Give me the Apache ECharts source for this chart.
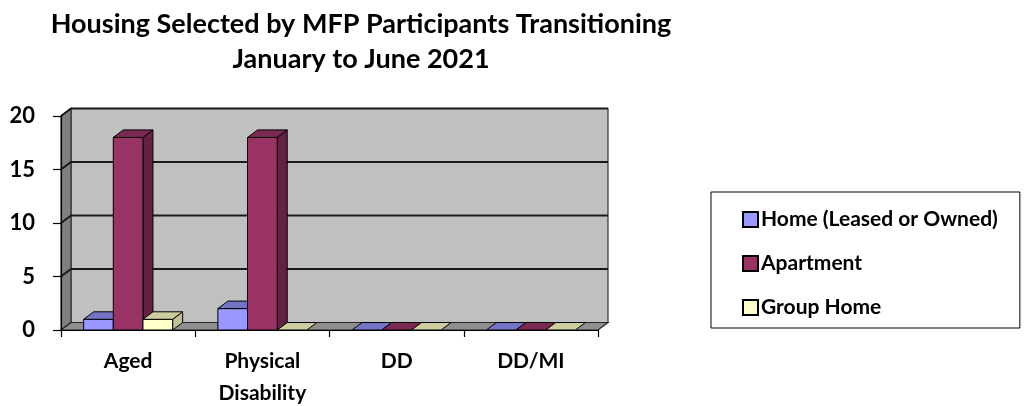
<!DOCTYPE html>
<html>
<head>
<meta charset="utf-8">
<script src="https://cdn.jsdelivr.net/npm/echarts@6/dist/echarts.min.js"></script>
<style>
  html, body { margin: 0; padding: 0; background: #fff; }
  #chart { width: 1024px; height: 406px; }
</style>
</head>
<body>
<div id="chart"></div>
<script>
// Housing type counts per participant group
const categories = ['Aged', 'Physical Disability', 'DD', 'DD/MI'];
const homeLeasedOrOwned = [1, 2, 0, 0];
const apartment = [18, 18, 0, 0];
const groupHome = [1, 0, 0, 0];
const seriesNames = ['Home (Leased or Owned)', 'Apartment', 'Group Home'];
const yTicks = [0, 5, 10, 15, 20];

// Depth offset of the pseudo-3D box (pixels)
const DX = 10, DY = -7.5;
const BAR_FRACTION = 0.221;
const FONT = 'Lato, "Open Sans", sans-serif';

const faces = [
  { front: '#9999FF', top: '#7474C6', side: '#5E5EA0' },
  { front: '#993366', top: '#7A2952', side: '#642142' },
  { front: '#FFFFCC', top: '#CDCD9E', side: '#C2C295' }
];

const edge = { stroke: '#000', lineWidth: 1 };

function poly(points, fill) {
  return { type: 'polygon', shape: { points }, style: Object.assign({ fill }, edge) };
}

// Back wall, side wall, floor and gridlines
function renderWalls(params, api) {
  const cs = params.coordSys;
  const x0 = cs.x, x1 = cs.x + cs.width;
  const yTop = cs.y, yBot = cs.y + cs.height;
  const children = [];
  children.push({ type: 'polygon', shape: { points: [[x0 + DX, yTop + DY], [x1 + DX, yTop + DY], [x1 + DX, yBot + DY], [x0 + DX, yBot + DY]] },
    style: { fill: '#C0C0C0', stroke: '#333', lineWidth: 1.2 } });
  children.push({ type: 'polygon', shape: { points: [[x0, yTop], [x0 + DX, yTop + DY], [x0 + DX, yBot + DY], [x0, yBot]] },
    style: { fill: '#808080', stroke: '#333', lineWidth: 1.2 } });
  children.push({ type: 'polygon', shape: { points: [[x0, yBot], [x0 + DX, yBot + DY], [x1 + DX, yBot + DY], [x1, yBot]] },
    style: { fill: '#8E8E8E', stroke: '#222', lineWidth: 1.2 } });
  yTicks.forEach(function (t) {
    if (t === 0) return;
    const y = api.coord([0, t])[1];
    children.push({ type: 'polyline', shape: { points: [[x0, y], [x0 + DX, y + DY], [x1 + DX, y + DY]] },
      style: { stroke: '#1a1a1a', lineWidth: 2, fill: null } });
  });
  return { type: 'group', children };
}

function barRenderer(slot) {
  const f = faces[slot];
  return function (params, api) {
    const cat = api.value(0), val = api.value(1);
    const base = api.coord([cat, 0]);
    const topPt = api.coord([cat, val]);
    const band = api.size([1, 0])[0];
    const w = band * BAR_FRACTION;
    const x0 = base[0] - 1.5 * w + slot * w;
    const x1 = x0 + w;
    const yb = base[1], yt = topPt[1];
    const children = [];
    if (val > 0) {
      children.push(poly([[x1, yt], [x1 + DX, yt + DY], [x1 + DX, yb + DY], [x1, yb]], f.side));
      children.push(poly([[x0, yt], [x1, yt], [x1, yb], [x0, yb]], f.front));
    }
    children.push(poly([[x0, yt], [x0 + DX, yt + DY], [x1 + DX, yt + DY], [x1, yt]], f.top));
    return { type: 'group', children };
  };
}

const valueSets = [homeLeasedOrOwned, apartment, groupHome];

const chart = echarts.init(document.getElementById('chart'), null, { renderer: 'canvas' });

const barSeries = seriesNames.map(function (name, i) {
  return {
    name: name,
    type: 'custom',
    z: 3,
    itemStyle: { color: faces[i].front, borderColor: '#000', borderWidth: 2 },
    renderItem: barRenderer(i),
    encode: { x: 0, y: 1 },
    data: valueSets[i].map(function (v, k) { return [k, v]; })
  };
});

chart.setOption({
  animation: false,
  backgroundColor: '#fff',
  graphic: [{
    type: 'text',
    x: 361, y: 7,
    style: {
      text: 'Housing Selected by MFP Participants Transitioning\nJanuary to June 2021',
      textAlign: 'center',
      textVerticalAlign: 'top',
      font: 'bold 27px ' + FONT,
      lineHeight: 35,
      fill: '#000'
    }
  }],
  legend: {
    orient: 'vertical',
    left: 711,
    top: 192,
    padding: [17, 22, 10, 31],
    itemGap: 23,
    itemWidth: 15,
    itemHeight: 15,
    icon: 'rect',
    borderColor: '#000',
    borderWidth: 1,
    data: seriesNames,
    itemStyle: { borderColor: '#000', borderWidth: 2 },
    textStyle: { fontFamily: FONT, fontWeight: 'bold', fontSize: 21, color: '#000', padding: [0, 0, 0, -2] }
  },
  grid: { left: 61, right: 426, top: 116, bottom: 76, outerBoundsMode: 'none', containLabel: false },
  xAxis: {
    type: 'category',
    data: categories,
    z: 10,
    axisLine: { lineStyle: { color: '#000', width: 1.2 } },
    axisTick: { show: true, length: 7, lineStyle: { color: '#000', width: 1.2 } },
    axisLabel: {
      margin: 15,
      color: '#000',
      fontFamily: FONT,
      fontWeight: 'bold',
      fontSize: 21,
      lineHeight: 32,
      formatter: function (v) { return v.replace(' ', '\n'); }
    },
    splitLine: { show: false }
  },
  yAxis: {
    type: 'value',
    min: yTicks[0],
    max: yTicks[yTicks.length - 1],
    interval: yTicks[1] - yTicks[0],
    z: 10,
    axisLine: { show: true, lineStyle: { color: '#000', width: 1.2 } },
    axisTick: { show: true, length: 8, lineStyle: { color: '#000', width: 1.2 } },
    axisLabel: { margin: 26, color: '#000', fontFamily: FONT, fontWeight: 'bold', fontSize: 22 },
    splitLine: { show: false }
  },
  series: [{
    type: 'custom',
    name: 'walls',
    z: 1,
    silent: true,
    renderItem: renderWalls,
    data: [[0, 0]]
  }].concat(barSeries)
});
</script>
</body>
</html>
